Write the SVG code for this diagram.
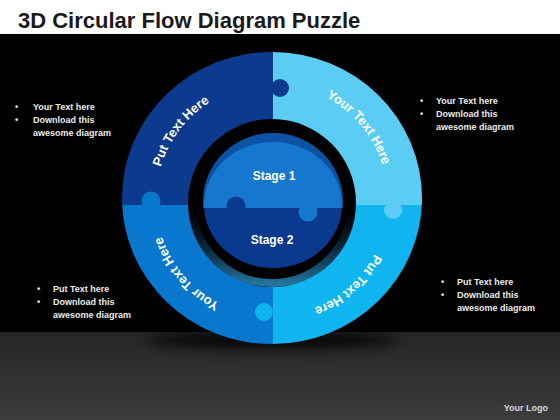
<svg xmlns="http://www.w3.org/2000/svg" width="560" height="420" viewBox="0 0 560 420">
<style>
.title{font-family:"Liberation Sans",Arial,sans-serif;font-weight:bold;font-size:22px;fill:#1a1a1a}
.bul{font-family:"Liberation Sans",Arial,sans-serif;font-weight:bold;font-size:9px;fill:#ececec}
.arc{font-family:"Liberation Sans",Arial,sans-serif;font-weight:bold;font-size:13px;fill:#ffffff}
.stage{font-family:"Liberation Sans",Arial,sans-serif;font-weight:bold;font-size:12px;fill:#ffffff;text-anchor:middle}
.logo{font-family:"Liberation Sans",Arial,sans-serif;font-weight:bold;font-size:9px;fill:#d8d8d8;text-anchor:end}
</style>
<defs>
<linearGradient id="floor" x1="0" y1="0" x2="0" y2="1">
<stop offset="0" stop-color="#252525"/><stop offset="1" stop-color="#3c3c3c"/>
</linearGradient>
<linearGradient id="bevel" x1="0" y1="0" x2="0" y2="1">
<stop offset="0" stop-color="#000" stop-opacity="0"/>
<stop offset="0.55" stop-color="#0a3060" stop-opacity="0"/>
<stop offset="1" stop-color="#2a88b8" stop-opacity="0.85"/>
</linearGradient>
<linearGradient id="rim" x1="0" y1="0" x2="0" y2="1">
<stop offset="0" stop-color="#0d54a6"/><stop offset="1" stop-color="#0b4a98"/>
</linearGradient>
<filter id="blur" x="-30%" y="-100%" width="160%" height="300%"><feGaussianBlur stdDeviation="6"/></filter>
<clipPath id="qTL"><rect x="0" y="0" width="273" height="205"/></clipPath>
<clipPath id="qTR"><rect x="273" y="0" width="287" height="205"/></clipPath>
<clipPath id="qBL"><rect x="0" y="205" width="273" height="215"/></clipPath>
<clipPath id="qBR"><rect x="273" y="205" width="287" height="215"/></clipPath>
<clipPath id="sTop"><rect x="0" y="0" width="560" height="208"/></clipPath>
<clipPath id="sBot"><rect x="0" y="208" width="560" height="212"/></clipPath>
<path id="ring" d="M156,200 A116,116 0 1,1 388,200 A116,116 0 1,1 156,200"/>
</defs>

<rect x="0" y="0" width="560" height="34" fill="#ffffff"/>
<rect x="0" y="34" width="560" height="298" fill="#000000"/>
<rect x="0" y="332" width="560" height="88" fill="url(#floor)"/>
<ellipse cx="272" cy="340" rx="125" ry="9" fill="#000" opacity="0.8" filter="url(#blur)"/>

<g id="title"><text class="title" x="18" y="28">3D Circular Flow Diagram Puzzle</text></g>

<g id="piece-top-left">
<ellipse cx="272" cy="198" rx="150" ry="146" fill="#0b3a8e" clip-path="url(#qTL)"/>
</g>
<g id="piece-top-right">
<ellipse cx="272" cy="198" rx="150" ry="146" fill="#5bcdf4" clip-path="url(#qTR)"/>
</g>
<g id="piece-bottom-left">
<ellipse cx="272" cy="198" rx="150" ry="146" fill="#0a77cf" clip-path="url(#qBL)"/>
</g>
<g id="piece-bottom-right">
<ellipse cx="272" cy="198" rx="150" ry="146" fill="#10b4ef" clip-path="url(#qBR)"/>
</g>
<g id="knobs">
<circle cx="280" cy="88" r="9" fill="#0b3a8e"/>
<circle cx="151" cy="201" r="9.5" fill="#0a77cf"/>
<circle cx="393" cy="210" r="9" fill="#5bcdf4"/>
<circle cx="264" cy="312" r="9" fill="#10b4ef"/>
</g>

<g id="hole">
<circle cx="272" cy="203" r="84" fill="#000"/>
<circle cx="272" cy="203" r="80" fill="none" stroke="url(#bevel)" stroke-width="8"/>
</g>

<g id="stage-2">
<ellipse cx="273" cy="205" rx="69" ry="63" fill="#0a3a90" clip-path="url(#sBot)"/>
<text class="stage" x="272" y="244">Stage 2</text>
</g>
<g id="stage-1">
<ellipse cx="273" cy="201" rx="70" ry="68" fill="url(#rim)" clip-path="url(#sTop)"/>
<ellipse cx="273" cy="205" rx="69" ry="63" fill="#1677cf" clip-path="url(#sTop)"/>
<circle cx="308" cy="212" r="9.5" fill="#1677cf"/>
<text class="stage" x="274" y="180">Stage 1</text>
</g>
<g id="stage-2-knob">
<circle cx="236" cy="206" r="9.5" fill="#0a3a90"/>
</g>

<g id="ring-labels">
<text class="arc"><textPath href="#ring" startOffset="74.9" text-anchor="middle">Put Text Here</textPath></text>
<text class="arc"><textPath href="#ring" startOffset="283.4" text-anchor="middle">Your Text Here</textPath></text>
<text class="arc"><textPath href="#ring" startOffset="461.6" text-anchor="middle">Put Text Here</textPath></text>
<text class="arc"><textPath href="#ring" startOffset="645.8" text-anchor="middle">Your Text Here</textPath></text>
</g>

<g id="connectors"></g>

<g id="note-top-left">
<text class="bul" x="15" y="110">•</text><text class="bul" x="33" y="110">Your Text here</text>
<text class="bul" x="15" y="123">•</text><text class="bul" x="33" y="123">Download this</text>
<text class="bul" x="33" y="136">awesome diagram</text>
</g>
<g id="note-top-right">
<text class="bul" x="420" y="104">•</text><text class="bul" x="436" y="104">Your Text here</text>
<text class="bul" x="420" y="117">•</text><text class="bul" x="436" y="117">Download this</text>
<text class="bul" x="436" y="130">awesome diagram</text>
</g>
<g id="note-bottom-left">
<text class="bul" x="37" y="292">•</text><text class="bul" x="53" y="292">Put Text here</text>
<text class="bul" x="37" y="305">•</text><text class="bul" x="53" y="305">Download this</text>
<text class="bul" x="53" y="318">awesome diagram</text>
</g>
<g id="note-bottom-right">
<text class="bul" x="441" y="285">•</text><text class="bul" x="457" y="285">Put Text here</text>
<text class="bul" x="441" y="298">•</text><text class="bul" x="457" y="298">Download this</text>
<text class="bul" x="457" y="311">awesome diagram</text>
</g>
<g id="logo"><text class="logo" x="548" y="411">Your Logo</text></g>
</svg>
